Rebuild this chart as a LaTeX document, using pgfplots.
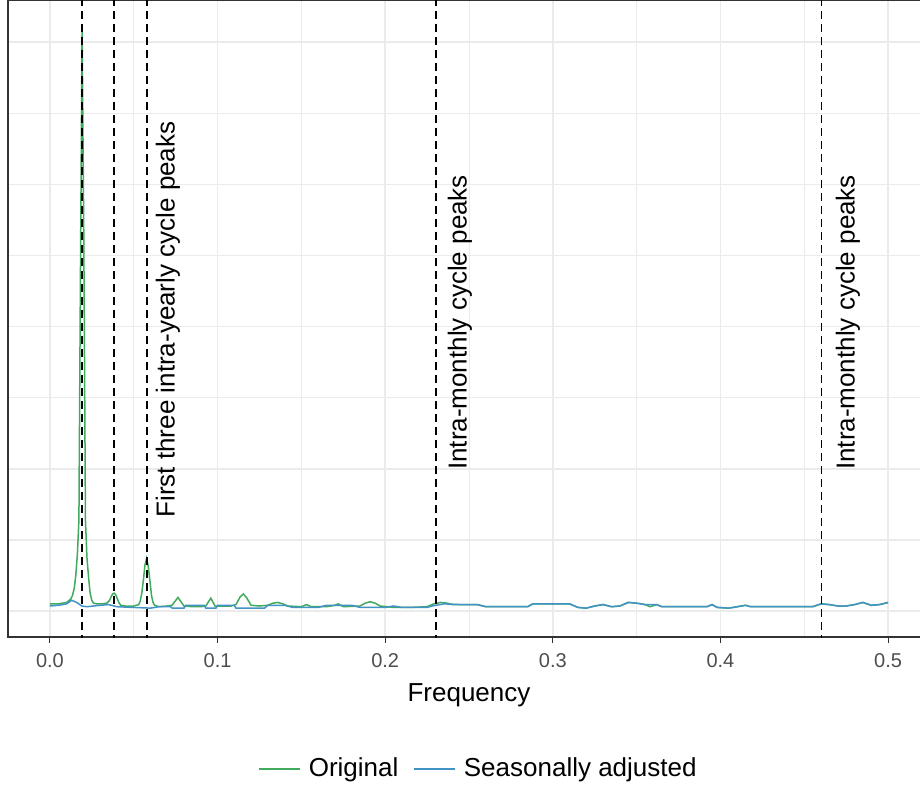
\documentclass[border=0pt]{standalone}
\usepackage{fontspec}
\setmainfont{Liberation Sans}
\usepackage{pgfplots}
\pgfplotsset{compat=1.18}
\definecolor{orig}{RGB}{65,171,93}
\definecolor{sadj}{RGB}{66,146,198}
\definecolor{grey20}{RGB}{51,51,51}
\definecolor{grey30}{RGB}{77,77,77}
\definecolor{grey92}{RGB}{235,235,235}

\begin{document}
\begin{tikzpicture}
\path[use as bounding box] (-4pt,-74.5pt) rectangle (456pt,318.5pt);
\begin{axis}[
    at={(0,0)}, anchor=south west,
    scale only axis,
    width=461pt, height=318.5pt,
    xmin=-0.025, xmax=0.525,
    ymin=-0.366, ymax=8.594,
    xtick={0,0.1,0.2,0.3,0.4,0.5},
    xticklabels={0.0,0.1,0.2,0.3,0.4,0.5},
    minor xtick={0.05,0.15,0.25,0.35,0.45},
    ytick={0,1,2,3,4,5,6,7,8},
    yticklabels={},
    ytick style={draw=none},
    minor tick length=0pt,
    xtick align=outside, xtick pos=bottom,
    major tick length=3pt,
    xtick style={grey20, line width=0.5pt},
    grid=both,
    major grid style={grey92, line width=0.8pt},
    minor grid style={grey92, line width=0.5pt},
    axis line style={grey20, line width=0.7pt},
    /pgf/number format/assume math mode=true,
    xticklabel style={font=\fontsize{10}{12}\selectfont, text=grey30, yshift=-1.5pt},
    xlabel={Frequency},
    xlabel style={at={(axis description cs:0.5,-0.091)}, anchor=center, font=\fontsize{13}{15.6}\selectfont},
    legend style={at={(0.5135,-0.207)}, anchor=center, draw=none, fill=none,
        font=\fontsize{13}{15.6}\selectfont, legend columns=2,
        /tikz/every even column/.append style={column sep=3.5pt},
        nodes={inner xsep=4pt, inner ysep=1pt}},
    legend image code/.code={\draw[#1] (0pt,0pt) -- (16.5pt,0pt);
        \path (0pt,0pt) -- (20.5pt,0pt);},
]
% Original
\addplot[orig, line width=0.75pt] coordinates {
(0.000,0.10) (0.005,0.10) (0.010,0.12) (0.0125,0.17) (0.0135,0.22) (0.0145,0.32)
(0.0154,0.49) (0.0164,0.80) (0.0173,1.28) (0.0183,5.03) (0.0192,8.19) (0.0202,5.33)
(0.0212,1.28) (0.0221,0.75) (0.0231,0.46) (0.0240,0.25) (0.0250,0.15) (0.0260,0.11)
(0.0280,0.10) (0.0310,0.10) (0.0340,0.11) (0.0356,0.15) (0.0365,0.20) (0.0375,0.24)
(0.0385,0.25) (0.0394,0.22) (0.0404,0.16) (0.0413,0.11) (0.0423,0.08) (0.0450,0.07)
(0.0500,0.07) (0.0530,0.09) (0.0538,0.13) (0.0548,0.25) (0.0558,0.44) (0.0567,0.65)
(0.0577,0.74) (0.0587,0.62) (0.0596,0.44) (0.0606,0.22) (0.0615,0.12) (0.0625,0.08)
(0.065,0.06) (0.070,0.07) (0.0728,0.08) (0.0764,0.19) (0.0800,0.07) (0.085,0.06)
(0.090,0.06) (0.0930,0.07) (0.0960,0.18) (0.0985,0.07) (0.103,0.07) (0.108,0.07)
(0.111,0.09) (0.1135,0.20) (0.1155,0.24) (0.1175,0.18) (0.120,0.08) (0.125,0.07)
(0.130,0.08) (0.133,0.11) (0.136,0.12) (0.139,0.10) (0.142,0.07) (0.150,0.06)
(0.153,0.09) (0.156,0.06) (0.165,0.06) (0.170,0.08) (0.172,0.10) (0.175,0.06)
(0.185,0.07) (0.188,0.11) (0.191,0.13) (0.194,0.11) (0.197,0.07) (0.205,0.05)
(0.215,0.05) (0.225,0.06) (0.229,0.10) (0.233,0.12) (0.237,0.11) (0.240,0.09)
(0.245,0.09) (0.255,0.09) (0.260,0.06) (0.285,0.06) (0.288,0.10) (0.310,0.10)
(0.315,0.05) (0.320,0.04) (0.325,0.07) (0.330,0.09) (0.335,0.06) (0.340,0.07)
(0.345,0.12) (0.350,0.11) (0.355,0.09) (0.358,0.06) (0.362,0.09) (0.365,0.06)
(0.392,0.06) (0.395,0.09) (0.398,0.05) (0.405,0.04) (0.410,0.06) (0.415,0.08)
(0.418,0.06) (0.455,0.06) (0.460,0.10) (0.465,0.09) (0.470,0.07) (0.475,0.07)
(0.480,0.09) (0.485,0.12) (0.490,0.08) (0.495,0.09) (0.500,0.12)
};
\addlegendentry{Original}
% Seasonally adjusted
\addplot[sadj, line width=0.75pt] coordinates {
(0.000,0.07) (0.005,0.08) (0.010,0.10) (0.013,0.15) (0.016,0.12) (0.019,0.07)
(0.022,0.06) (0.030,0.08) (0.035,0.09) (0.040,0.06) (0.050,0.05) (0.060,0.04)
(0.065,0.06) (0.072,0.06) (0.073,0.04) (0.080,0.04) (0.081,0.08) (0.092,0.08)
(0.093,0.04) (0.099,0.04) (0.100,0.08) (0.110,0.08) (0.111,0.04) (0.120,0.04)
(0.128,0.04) (0.130,0.08) (0.140,0.08) (0.145,0.05) (0.160,0.05) (0.165,0.08)
(0.180,0.08) (0.185,0.05) (0.200,0.05) (0.205,0.07) (0.210,0.05) (0.225,0.05)
(0.228,0.07) (0.235,0.10) (0.245,0.09) (0.255,0.09) (0.260,0.06) (0.285,0.06)
(0.288,0.10) (0.310,0.10) (0.315,0.05) (0.320,0.04) (0.325,0.07) (0.330,0.09)
(0.335,0.06) (0.340,0.07) (0.345,0.12) (0.350,0.11) (0.355,0.09) (0.362,0.09)
(0.365,0.06) (0.392,0.06) (0.395,0.09) (0.398,0.05) (0.405,0.04) (0.410,0.06)
(0.415,0.08) (0.418,0.06) (0.455,0.06) (0.460,0.10) (0.465,0.09) (0.470,0.07)
(0.475,0.07) (0.480,0.09) (0.485,0.12) (0.490,0.08) (0.495,0.09) (0.500,0.12)
};
\addlegendentry{Seasonally adjusted}
% reference lines
\addplot[black, line width=0.9pt, dash pattern=on 4pt off 2.5pt, forget plot] coordinates {(0.01923,-1) (0.01923,10)};
\addplot[black, line width=0.9pt, dash pattern=on 4pt off 2.5pt, forget plot] coordinates {(0.03846,-1) (0.03846,10)};
\addplot[black, line width=0.9pt, dash pattern=on 4pt off 2.5pt, forget plot] coordinates {(0.05769,-1) (0.05769,10)};
\addplot[black, line width=0.9pt, dash pattern=on 4pt off 2.5pt, forget plot] coordinates {(0.2301,-1) (0.2301,10)};
\addplot[black, line width=0.9pt, dash pattern=on 4pt off 2.5pt, forget plot] coordinates {(0.4603,-1) (0.4603,10)};
\node[rotate=90, anchor=west, inner sep=0pt, font=\fontsize{13}{15.6}\selectfont] at (axis cs:0.0704,1.31) {First three intra-yearly cycle peaks};
\node[rotate=90, anchor=west, inner sep=0pt, font=\fontsize{13}{15.6}\selectfont] at (axis cs:0.2446,1.98) {Intra-monthly cycle peaks};
\node[rotate=90, anchor=west, inner sep=0pt, font=\fontsize{13}{15.6}\selectfont] at (axis cs:0.4760,1.98) {Intra-monthly cycle peaks};
\end{axis}
\end{tikzpicture}
\end{document}
